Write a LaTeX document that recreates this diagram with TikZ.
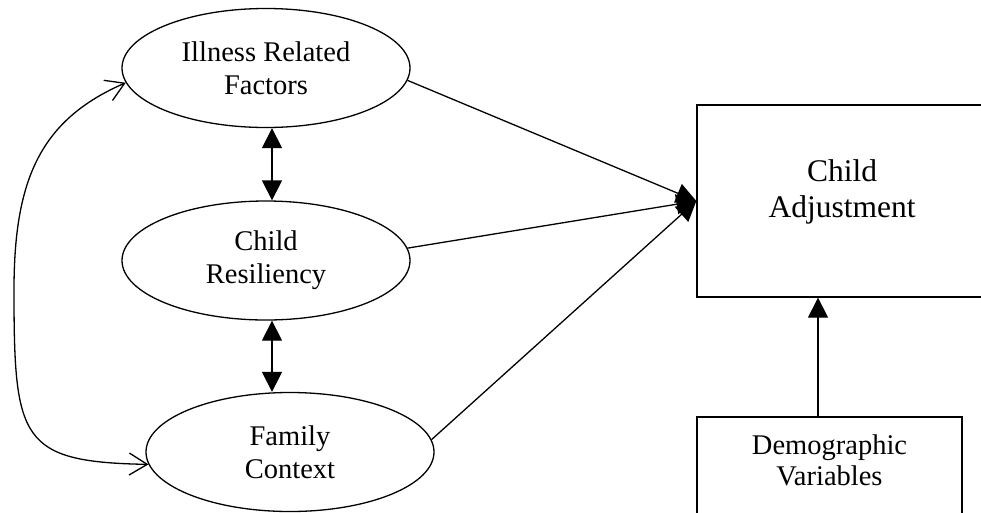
\documentclass[tikz,border=0pt]{standalone}
\usepackage{fontspec}
\setmainfont{Liberation Serif}
\usetikzlibrary{arrows.meta,shapes.geometric}
\begin{document}
\begin{tikzpicture}[x=1pt,y=-1pt,
  oval/.style={draw, ellipse, line width=1.3pt, minimum width=288pt, minimum height=119pt,
    inner sep=0pt, align=center, font=\fontsize{28.5}{33}\selectfont},
  boxnode/.style={draw, rectangle, line width=1.3pt, inner sep=0pt},
  lbl/.style={align=center, inner sep=0pt},
  solidarrow/.style={line width=1.3pt, -{Triangle[length=20pt,width=20pt]}},
  solidboth/.style={line width=1.3pt, {Triangle[length=20pt,width=20pt]}-{Triangle[length=20pt,width=20pt]}},
  barbboth/.style={line width=1.3pt, {Straight Barb[length=18pt,width=22pt]}-{Straight Barb[length=18pt,width=22pt]}}
]
\useasboundingbox (0,0) rectangle (981,512);
% ellipses
\node[oval] (ill) at (266,68) {Illness Related\\Factors};
\node[oval] (res) at (266,260.5) {Child\\Resiliency};
\node[oval] (fam) at (290,452) {Family\\Context};
% boxes
\node[boxnode, minimum width=290pt, minimum height=192pt] (ca) at (842,201) {};
\node[lbl, font=\fontsize{31.5}{36}\selectfont] (catext) at ([yshift=9.5pt]ca.center) {Child\\Adjustment};
\node[boxnode, minimum width=265pt, minimum height=143pt] (dv) at (829.5,488.5) {};
\node[lbl, font=\fontsize{28.5}{31}\selectfont] (dvtext) at ([yshift=28.5pt]dv.center) {Demographic\\Variables};
% double arrows between ellipses
\draw[solidboth] ([xshift=6pt]ill.south) -- ([xshift=6pt]res.north);
\draw[solidboth] ([xshift=6pt]res.south) -- ([xshift=-18pt]fam.north);
% converging arrows
\draw[solidarrow] (ill.-5) -- (ca.west);
\draw[solidarrow] (res.5) -- (ca.west);
\draw[solidarrow] (fam.5) -- (ca.west);
% demographic arrow
\coordinate (dvtop) at ([xshift=-11.5pt]dv.north);
\draw[solidarrow] (dvtop) -- (dvtop |- ca.south);
% left curved correlation
\coordinate (lc) at (14,290);
\draw[barbboth] (ill.186) .. controls (40,120) and (14,180) .. (lc)
  .. controls (14,440) and (20,462) .. (fam.185);
\end{tikzpicture}
\end{document}
